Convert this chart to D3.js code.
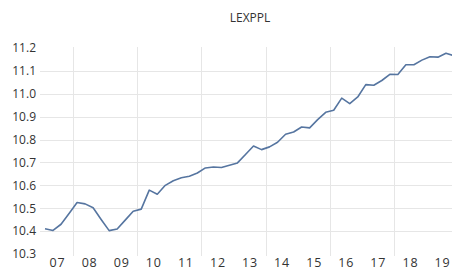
<!DOCTYPE html>
<html><head><meta charset="utf-8">
<script src="https://cdn.jsdelivr.net/npm/d3@7"></script>
<style>
html,body{margin:0;padding:0;background:#fff;}
svg{display:block;}
text{font-family:"Open Sans","Liberation Sans",Arial,sans-serif;}
</style></head>
<body>
<svg id="chart" width="452" height="273"></svg>
<script>
const title = "LEXPPL";
const yearLabels = ["07","08","09","10","11","12","13","14","15","16","17","18","19"];
const yTicks = [10.3,10.4,10.5,10.6,10.7,10.8,10.9,11.0,11.1,11.2];
const values = [
  10.410, 10.403, 10.430, 10.477,
  10.525, 10.519, 10.502, 10.451,
  10.402, 10.409, 10.448, 10.487,
  10.496, 10.579, 10.561, 10.600,
  10.620, 10.633, 10.640, 10.654,
  10.676, 10.680, 10.678, 10.688,
  10.698, 10.735, 10.772, 10.756,
  10.768, 10.788, 10.823, 10.833,
  10.855, 10.851, 10.887, 10.919,
  10.928, 10.981, 10.957, 10.986,
  11.040, 11.037, 11.058, 11.085,
  11.084, 11.127, 11.127, 11.147,
  11.162, 11.160, 11.177, 11.166
];

const svg = d3.select("#chart");
const x = d3.scaleLinear().domain([-0.5, values.length - 0.5]).range([41, 458]);
const y = d3.scaleLinear().domain([10.3, 11.2]).range([254, 48]);

// horizontal grid
svg.append("g").selectAll("line")
  .data(yTicks.filter(v => v > 10.3 && v < 11.2))
  .join("line")
  .attr("x1", 40).attr("x2", 458)
  .attr("y1", d => Math.round(y(d)) + 0.5).attr("y2", d => Math.round(y(d)) + 0.5)
  .attr("stroke", "#e6e6e6").attr("stroke-width", 1);

// vertical grid every two years (year boundaries)
const vIdx = yearLabels.map((d, i) => i).filter(i => i % 2 === 1).map(i => i * 4 - 0.5);
svg.append("g").selectAll("line")
  .data(vIdx)
  .join("line")
  .attr("x1", d => Math.round(x(d)) + 0.5).attr("x2", d => Math.round(x(d)) + 0.5)
  .attr("y1", 47).attr("y2", 256)
  .attr("stroke", "#e6e6e6").attr("stroke-width", 1);

// y axis labels
const yAxis = d3.axisLeft(y).tickValues(yTicks).tickFormat(d3.format(".1f")).tickSize(0).tickPadding(0);
const gy = svg.append("g").attr("transform", "translate(36,0)").call(yAxis);
gy.select(".domain").remove();
gy.selectAll("text").attr("font-size", 12).attr("fill", "#333").attr("font-family", "\"Open Sans\",\"Liberation Sans\",Arial,sans-serif");

// x axis labels at year centers
const xAxis = d3.axisBottom(x).tickValues(yearLabels.map((d, i) => i * 4 + 1.5))
  .tickFormat((d, i) => yearLabels[i]).tickSize(0).tickPadding(0);
const gx = svg.append("g").attr("transform", "translate(0,258)").call(xAxis);
gx.select(".domain").remove();
gx.selectAll("text").attr("font-size", 12.5).attr("fill", "#333").attr("letter-spacing", "0.8px")
  .attr("font-family", "\"Open Sans\",\"Liberation Sans\",Arial,sans-serif");

// line
svg.append("path")
  .datum(values)
  .attr("fill", "none")
  .attr("stroke", "#5675a0")
  .attr("stroke-width", 1.6)
  .attr("stroke-linejoin", "round")
  .attr("d", d3.line().x((d, i) => x(i)).y(d => y(d)));

// title
svg.append("text")
  .attr("x", 250).attr("y", 22)
  .attr("text-anchor", "middle")
  .attr("font-size", 12).attr("fill", "#333")
  .text(title);
</script>
</body></html>
